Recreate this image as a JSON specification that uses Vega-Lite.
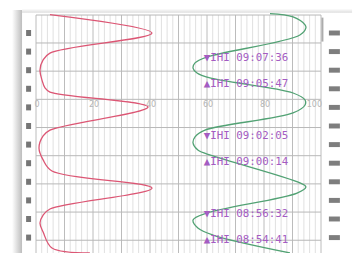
{
  "$schema": "https://vega.github.io/schema/vega-lite/v6.json",
  "width": 285,
  "height": 238,
  "autosize": {"type": "none"},
  "padding": {"left": 36, "top": 15, "right": 36, "bottom": 0},
  "background": "#ffffff",
  "config": {"view": {"stroke": null}},
  "datasets": {
    "traces": [
      {"pen": "red", "t": 641, "v": 4.9}, {"pen": "red", "t": 562, "v": 40.7}, {"pen": "red", "t": 477, "v": 4.9},
      {"pen": "red", "t": 448, "v": 2.5}, {"pen": "red", "t": 405, "v": 1.4}, {"pen": "red", "t": 362, "v": 2.1},
      {"pen": "red", "t": 328, "v": 3.2}, {"pen": "red", "t": 311, "v": 4.9}, {"pen": "red", "t": 247, "v": 39.3},
      {"pen": "red", "t": 149, "v": 4.9}, {"pen": "red", "t": 124, "v": 2.5}, {"pen": "red", "t": 73, "v": 1.05},
      {"pen": "red", "t": 22, "v": 2.5}, {"pen": "red", "t": -25, "v": 5.6}, {"pen": "red", "t": -98, "v": 40.7},
      {"pen": "red", "t": -187, "v": 4.9}, {"pen": "red", "t": -213, "v": 2.5}, {"pen": "red", "t": -247, "v": 1.4},
      {"pen": "red", "t": -285, "v": 2.5}, {"pen": "red", "t": -353, "v": 5.6}, {"pen": "red", "t": -374, "v": 18.9},
      {"pen": "green", "t": 645, "v": 82.1}, {"pen": "green", "t": 631, "v": 90.2}, {"pen": "green", "t": 597, "v": 94.4},
      {"pen": "green", "t": 584, "v": 94.7}, {"pen": "green", "t": 554, "v": 92.6}, {"pen": "green", "t": 460, "v": 60},
      {"pen": "green", "t": 435, "v": 55.8}, {"pen": "green", "t": 413, "v": 55.1}, {"pen": "green", "t": 392, "v": 56.5},
      {"pen": "green", "t": 371, "v": 61}, {"pen": "green", "t": 307, "v": 90.2}, {"pen": "green", "t": 277, "v": 94.4},
      {"pen": "green", "t": 256, "v": 94.4}, {"pen": "green", "t": 222, "v": 90.2}, {"pen": "green", "t": 149, "v": 59.3},
      {"pen": "green", "t": 120, "v": 55.8}, {"pen": "green", "t": 94, "v": 55.1}, {"pen": "green", "t": 64, "v": 56.8},
      {"pen": "green", "t": 39, "v": 62.1}, {"pen": "green", "t": -76, "v": 92.6}, {"pen": "green", "t": -93, "v": 94.7},
      {"pen": "green", "t": -119, "v": 91.6}, {"pen": "green", "t": -204, "v": 60}, {"pen": "green", "t": -234, "v": 55.1},
      {"pen": "green", "t": -268, "v": 56.8}, {"pen": "green", "t": -298, "v": 62.1}, {"pen": "green", "t": -374, "v": 89.1}
    ],
    "events": [
      {"label": "▼IHI 09:07:36", "t": 456},
      {"label": "▲IHI 09:05:47", "t": 347},
      {"label": "▼IHI 09:02:05", "t": 125},
      {"label": "▲IHI 09:00:14", "t": 14},
      {"label": "▼IHI 08:56:32", "t": -208},
      {"label": "▲IHI 08:54:41", "t": -319}
    ],
    "scaleLabels": [{"v": 0}, {"v": 20}, {"v": 40}, {"v": 60}, {"v": 80}, {"v": 100}],
    "gridV": [
      {"v": 0}, {"v": 2}, {"v": 4}, {"v": 6}, {"v": 8}, {"v": 10}, {"v": 12}, {"v": 14}, {"v": 16}, {"v": 18},
      {"v": 20}, {"v": 22}, {"v": 24}, {"v": 26}, {"v": 28}, {"v": 30}, {"v": 32}, {"v": 34}, {"v": 36}, {"v": 38},
      {"v": 40}, {"v": 42}, {"v": 44}, {"v": 46}, {"v": 48}, {"v": 50}, {"v": 52}, {"v": 54}, {"v": 56}, {"v": 58},
      {"v": 60}, {"v": 62}, {"v": 64}, {"v": 66}, {"v": 68}, {"v": 70}, {"v": 72}, {"v": 74}, {"v": 76}, {"v": 78},
      {"v": 80}, {"v": 82}, {"v": 84}, {"v": 86}, {"v": 88}, {"v": 90}, {"v": 92}, {"v": 94}, {"v": 96}, {"v": 98},
      {"v": 100}
    ],
    "gridH": [{"t": 639}, {"t": 520}, {"t": 400}, {"t": 280}, {"t": 160}, {"t": 40}, {"t": -80}, {"t": -200}, {"t": -320}],
    "holes": [
      {"t": 562.5}, {"t": 483.3}, {"t": 404.1}, {"t": 324.9}, {"t": 245.7}, {"t": 166.5},
      {"t": 87.3}, {"t": 8.1}, {"t": -71.1}, {"t": -150.3}, {"t": -229.5}, {"t": -308.7}
    ],
    "one": [{}]
  },
  "layer": [
    {
      "data": {"name": "one"},
      "mark": {"type": "rect", "fill": {"gradient": "linear", "x1": 0, "x2": 1, "y1": 0, "y2": 0, "stops": [{"offset": 0, "color": "#ffffff"}, {"offset": 1, "color": "#bdbdbd"}]}},
      "encoding": {
        "x": {"datum": -8.4, "type": "quantitative", "scale": {"domain": [0, 100], "nice": false, "zero": false}, "axis": null},
        "x2": {"datum": -4.9},
        "y": {"datum": 660, "type": "quantitative", "scale": {"domain": [-374.3, 639.1], "nice": false, "zero": false}, "axis": null},
        "y2": {"datum": -380}
      }
    },
    {
      "data": {"name": "one"},
      "mark": {"type": "rect", "fill": {"gradient": "linear", "x1": 0, "x2": 0, "y1": 0, "y2": 1, "stops": [{"offset": 0, "color": "#ffffff"}, {"offset": 1, "color": "#dedede"}]}},
      "encoding": {
        "x": {"datum": -4.9, "type": "quantitative", "scale": {"domain": [0, 100], "nice": false, "zero": false}, "axis": null},
        "x2": {"datum": 110.9},
        "y": {"datum": 666, "type": "quantitative", "scale": {"domain": [-374.3, 639.1], "nice": false, "zero": false}, "axis": null},
        "y2": {"datum": 649}
      }
    },
    {
      "data": {"name": "gridV"},
      "mark": {"type": "rule", "strokeWidth": 1},
      "encoding": {
        "x": {"field": "v", "type": "quantitative", "scale": {"domain": [0, 100], "nice": false, "zero": false}, "axis": null},
        "y": {"datum": 639.1, "type": "quantitative", "scale": {"domain": [-374.3, 639.1], "nice": false, "zero": false}, "axis": null},
        "y2": {"datum": -374.3},
        "color": {"condition": {"test": "datum.v % 10 === 0", "value": "#bcbcbc"}, "value": "#e0e0e0"}
      }
    },
    {
      "data": {"name": "gridH"},
      "mark": {"type": "rule", "strokeWidth": 1, "color": "#b8b8b8"},
      "encoding": {
        "x": {"datum": 0, "type": "quantitative", "scale": {"domain": [0, 100], "nice": false, "zero": false}, "axis": null},
        "x2": {"datum": 100},
        "y": {"field": "t", "type": "quantitative", "scale": {"domain": [-374.3, 639.1], "nice": false, "zero": false}, "axis": null}
      }
    },
    {
      "data": {"name": "holes"},
      "mark": {"type": "point", "filled": true, "shape": "M-0.83,-1H0.83V1H-0.83Z", "size": 36, "color": "#767676", "opacity": 1, "strokeWidth": 0},
      "encoding": {
        "x": {"datum": -2.6, "type": "quantitative", "scale": {"domain": [0, 100], "nice": false, "zero": false}, "axis": null},
        "y": {"field": "t", "type": "quantitative", "scale": {"domain": [-374.3, 639.1], "nice": false, "zero": false}, "axis": null}
      }
    },
    {
      "data": {"name": "holes"},
      "mark": {"type": "point", "filled": true, "shape": "M-1,-0.45H1V0.45H-1Z", "size": 121, "color": "#7e7e7e", "opacity": 1, "strokeWidth": 0},
      "encoding": {
        "x": {"datum": 104.7, "type": "quantitative", "scale": {"domain": [0, 100], "nice": false, "zero": false}, "axis": null},
        "y": {"field": "t", "type": "quantitative", "scale": {"domain": [-374.3, 639.1], "nice": false, "zero": false}, "axis": null}
      }
    },
    {
      "data": {"name": "one"},
      "mark": {"type": "rule", "color": "#acacac", "strokeWidth": 2},
      "encoding": {
        "x": {"datum": 100.5, "type": "quantitative", "scale": {"domain": [0, 100], "nice": false, "zero": false}, "axis": null},
        "y": {"datum": 628, "type": "quantitative", "scale": {"domain": [-374.3, 639.1], "nice": false, "zero": false}, "axis": null},
        "y2": {"datum": 526}
      }
    },
    {
      "data": {"name": "traces"},
      "mark": {"type": "line", "interpolate": "catmull-rom", "strokeWidth": 1.3},
      "encoding": {
        "x": {"field": "v", "type": "quantitative", "scale": {"domain": [0, 100], "nice": false, "zero": false}, "axis": null},
        "y": {"field": "t", "type": "quantitative", "scale": {"domain": [-374.3, 639.1], "nice": false, "zero": false}, "axis": null},
        "order": {"field": "t", "sort": "descending"},
        "color": {"field": "pen", "type": "nominal", "scale": {"domain": ["red", "green"], "range": ["#dc5674", "#52a274"]}, "legend": null}
      }
    },
    {
      "data": {"name": "scaleLabels"},
      "transform": [{"filter": "datum.v < 100"}],
      "mark": {"type": "text", "align": "center", "baseline": "middle", "fontSize": 8, "font": "DejaVu Sans", "color": "#b5b5b5", "dx": 1},
      "encoding": {
        "x": {"field": "v", "type": "quantitative", "scale": {"domain": [0, 100], "nice": false, "zero": false}, "axis": null},
        "y": {"datum": 256, "type": "quantitative", "scale": {"domain": [-374.3, 639.1], "nice": false, "zero": false}, "axis": null},
        "text": {"field": "v", "type": "quantitative"}
      }
    },
    {
      "data": {"name": "scaleLabels"},
      "transform": [{"filter": "datum.v === 100"}],
      "mark": {"type": "text", "align": "right", "baseline": "middle", "fontSize": 8, "font": "DejaVu Sans", "color": "#b5b5b5", "dx": 1},
      "encoding": {
        "x": {"field": "v", "type": "quantitative", "scale": {"domain": [0, 100], "nice": false, "zero": false}, "axis": null},
        "y": {"datum": 256, "type": "quantitative", "scale": {"domain": [-374.3, 639.1], "nice": false, "zero": false}, "axis": null},
        "text": {"field": "v", "type": "quantitative"}
      }
    },
    {
      "data": {"name": "events"},
      "mark": {"type": "text", "align": "left", "baseline": "middle", "fontSize": 10.8, "font": "DejaVu Sans Mono", "color": "#a45cc2"},
      "encoding": {
        "x": {"datum": 58.9, "type": "quantitative", "scale": {"domain": [0, 100], "nice": false, "zero": false}, "axis": null},
        "y": {"field": "t", "type": "quantitative", "scale": {"domain": [-374.3, 639.1], "nice": false, "zero": false}, "axis": null},
        "text": {"field": "label", "type": "nominal"}
      }
    }
  ]
}
